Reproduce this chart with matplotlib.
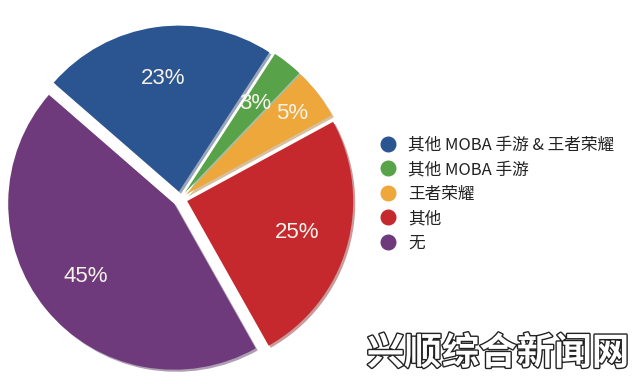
import matplotlib
matplotlib.use("Agg")
import matplotlib.pyplot as plt
from matplotlib.lines import Line2D
import matplotlib.patheffects as pe

plt.rcParams['font.family'] = ['Noto Sans CJK SC', 'DejaVu Sans']

categories = ["其他 MOBA 手游 & 王者荣耀", "其他 MOBA 手游", "王者荣耀", "其他", "无"]
values = [23, 3, 5, 25, 45]
colors = ["#2b5591", "#58a34a", "#eea73a", "#c5292d", "#6e3a7c"]
watermark = "兴顺综合新闻网"

total = sum(values)
CX, CY, R = 180, 185, 166

fig = plt.figure(figsize=(6.33, 3.84), dpi=100)
ax = fig.add_axes([0, 0, 1, 1])

wedges, texts, autotexts = ax.pie(
    values,
    colors=colors,
    startangle=139,
    counterclock=False,
    explode=[0.045 * R] * len(values),
    center=(CX, CY),
    radius=R,
    autopct=lambda p: f"{p * total / 100:.0f}%",
    pctdistance=0.69,
    shadow={'ox': 1.5, 'oy': -1.5, 'shade': 0.3, 'alpha': 0.45},
    wedgeprops=dict(linewidth=0),
    textprops=dict(color="#f7f3ea", fontsize=16, family=['Liberation Sans']),
    frame=True,
)
ax.set_xlim(0, 633)
ax.set_ylim(0, 384)
ax.set_aspect('equal')
ax.axis('off')

# nudge the small-slice label outward as in reference
x5, y5 = autotexts[2].get_position()
autotexts[2].set_position((CX + (x5 - CX) * 1.16, CY + (y5 - CY) * 1.16))

handles = [Line2D([0], [0], marker='o', linestyle='none', markersize=10.5,
                  markerfacecolor=c, markeredgecolor=c) for c in colors]
leg = ax.legend(handles, categories, loc='upper left',
                bbox_to_anchor=(373 / 633, 1 - 130 / 384),
                bbox_transform=fig.transFigure,
                frameon=False, fontsize=12, handletextpad=0.7,
                labelspacing=0.45, handlelength=1.0, borderaxespad=0)
for t in leg.get_texts():
    t.set_color("#222222")

ax.text(498, 31, watermark,
        ha='center', va='center', fontsize=27, fontweight='bold', color='white',
        path_effects=[pe.Stroke(linewidth=2.0, foreground='#222222'), pe.Normal()])

fig.savefig("out.png", dpi=100)
